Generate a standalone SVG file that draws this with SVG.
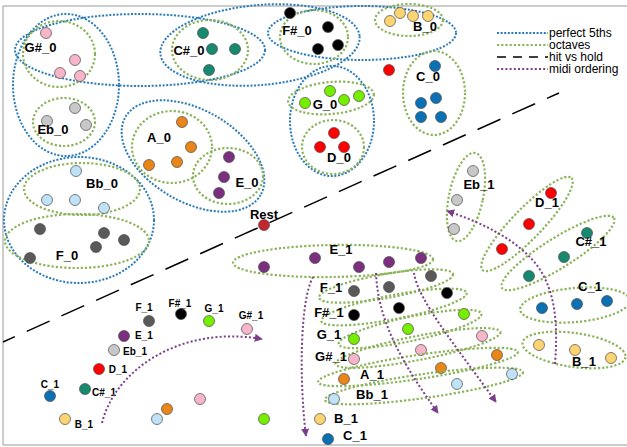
<svg xmlns="http://www.w3.org/2000/svg" width="627" height="447" viewBox="0 0 627 447">
<style>
.fifth{fill:none;stroke:#2a7bba;stroke-width:2;stroke-dasharray:2 1.6}
.oct{fill:none;stroke:#8bb35a;stroke-width:2.2;stroke-dasharray:2.2 2}
.midi{fill:none;stroke:#7b3f8a;stroke-width:2;stroke-dasharray:2 2.2}
.hit{fill:none;stroke:#000;stroke-width:1.5}
.lb{font-family:"Liberation Sans",Arial,sans-serif;font-weight:bold;font-size:13px;fill:#000;text-anchor:middle}
.ls{font-family:"Liberation Sans",Arial,sans-serif;font-weight:bold;font-size:10px;fill:#000;text-anchor:middle}
.lg{font-family:"Liberation Sans",Arial,sans-serif;font-size:12px;fill:#000}
circle{stroke:#4a4a4a;stroke-width:0.7}
.Gs{fill:#f7b5c9}.Cs{fill:#16896f}.Fs{fill:#000}.B{fill:#fdd472}.C{fill:#0c71b3}.G{fill:#76ee00}
.D{fill:#ff0000}.Eb{fill:#c8c8c8}.A{fill:#e8861a}.E{fill:#7a2f7f}.Bb{fill:#bfe2f7}.F{fill:#595959}.R{fill:#c4262e}
</style>
<defs>
<marker id="ah" viewBox="0 0 10 10" refX="9" refY="5" markerWidth="8" markerHeight="8" markerUnits="userSpaceOnUse" orient="auto">
<path d="M0,0 L10,5 L0,10 z" fill="#7b3f8a"/>
</marker>
</defs>
<rect x="0" y="0" width="627" height="447" fill="#fff"/>
<g id="frame" fill="none" stroke="#9a9a9a" stroke-width="1">
<path d="M627,6 H3 V445 H627"/>
</g>

<g id="fifths">
<ellipse class="fifth" cx="66" cy="85" rx="53" ry="71"/>
<ellipse class="fifth" cx="140" cy="50" rx="125" ry="36"/>
<ellipse class="fifth" cx="260" cy="45" rx="100" ry="40" transform="rotate(-5 260 45)"/>
<ellipse class="fifth" cx="362" cy="33" rx="94" ry="27"/>
<ellipse class="fifth" cx="332" cy="121" rx="42" ry="55"/>
<ellipse class="fifth" cx="193" cy="156" rx="78" ry="46" transform="rotate(30 193 156)"/>
<ellipse class="fifth" cx="79" cy="220" rx="75" ry="63"/>
</g>

<g id="hitline">
<line class="hit" x1="3" y1="342" x2="559" y2="93" stroke-dasharray="25 13" stroke-dashoffset="12"/>
</g>

<g id="Gs_0">
<ellipse class="oct" cx="59" cy="54" rx="36" ry="33"/>
<circle class="Gs" cx="46" cy="33" r="5.5"/><circle class="Gs" cx="75" cy="60" r="5.5"/><circle class="Gs" cx="60" cy="73" r="5.5"/><circle class="Gs" cx="80" cy="76" r="5.5"/>
<text class="lb" x="40.5" y="52">G#_0</text>
</g>
<g id="Cs_0">
<ellipse class="oct" cx="210" cy="50" rx="38" ry="30"/>
<circle class="Cs" cx="203" cy="33" r="5.5"/><circle class="Cs" cx="212" cy="49" r="5.5"/><circle class="Cs" cx="235" cy="49" r="5.5"/><circle class="Cs" cx="209" cy="70" r="5.5"/>
<text class="lb" x="189" y="55">C#_0</text>
</g>
<g id="Fs_0">
<ellipse class="oct" cx="314" cy="37" rx="34" ry="27"/>
<circle class="Fs" cx="290" cy="13" r="5.5"/><circle class="Fs" cx="328" cy="27" r="5.5"/><circle class="Fs" cx="318" cy="49" r="5.5"/><circle class="Fs" cx="338" cy="45" r="5.5"/>
<text class="lb" x="297" y="35">F#_0</text>
</g>
<g id="B_0">
<ellipse class="oct" cx="409" cy="20" rx="34" ry="16"/>
<circle class="B" cx="390" cy="21" r="5.5"/><circle class="B" cx="400" cy="13" r="5.5"/><circle class="B" cx="413" cy="16" r="5.5"/><circle class="B" cx="428" cy="16" r="5.5"/>
<text class="lb" x="425" y="31">B_0</text>
</g>
<g id="C_0">
<ellipse class="oct" cx="434" cy="93" rx="31" ry="42"/>
<circle class="C" cx="435" cy="66" r="5.5"/><circle class="C" cx="436" cy="98" r="5.5"/><circle class="C" cx="421" cy="103" r="5.5"/><circle class="C" cx="421" cy="117" r="5.5"/><circle class="C" cx="441" cy="117" r="5.5"/>
<text class="lb" x="428" y="81">C_0</text>
</g>
<g id="G_0">
<ellipse class="oct" cx="331" cy="98" rx="43" ry="16" transform="rotate(-5 331 98)"/>
<circle class="G" cx="305" cy="103" r="5.5"/><circle class="G" cx="330" cy="91" r="5.5"/><circle class="G" cx="344" cy="100" r="5.5"/><circle class="G" cx="359" cy="96" r="5.5"/>
<text class="lb" x="325" y="109">G_0</text>
</g>
<g id="D_0">
<ellipse class="oct" cx="333" cy="147" rx="31" ry="27"/>
<circle class="D" cx="389" cy="70" r="5.5"/>
<circle class="D" cx="334" cy="133" r="5.5"/><circle class="D" cx="320" cy="147" r="5.5"/><circle class="D" cx="344" cy="147" r="5.5"/>
<text class="lb" x="339" y="162">D_0</text>
</g>
<g id="Eb_0">
<ellipse class="oct" cx="64" cy="122" rx="31" ry="24"/>
<circle class="Eb" cx="75" cy="108" r="5.5"/><circle class="Eb" cx="47" cy="121" r="5.5"/><circle class="Eb" cx="86" cy="125" r="5.5"/>
<text class="lb" x="53" y="134">Eb_0</text>
</g>
<g id="A_0">
<ellipse class="oct" cx="172" cy="147" rx="40" ry="36"/>
<circle class="A" cx="182" cy="122" r="5.5"/><circle class="A" cx="191" cy="147" r="5.5"/><circle class="A" cx="177" cy="162" r="5.5"/><circle class="A" cx="149" cy="165" r="5.5"/>
<text class="lb" x="159" y="142">A_0</text>
</g>
<g id="E_0">
<ellipse class="oct" cx="228" cy="176" rx="35" ry="28"/>
<circle class="E" cx="229" cy="157" r="5.5"/><circle class="E" cx="224" cy="177" r="5.5"/><circle class="E" cx="219" cy="193" r="5.5"/>
<text class="lb" x="247" y="187">E_0</text>
</g>
<g id="Bb_0">
<ellipse class="oct" cx="82" cy="189" rx="58" ry="26"/>
<circle class="Bb" cx="76" cy="171" r="5.5"/><circle class="Bb" cx="47" cy="200" r="5.5"/><circle class="Bb" cx="75" cy="200" r="5.5"/><circle class="Bb" cx="104" cy="208" r="5.5"/>
<text class="lb" x="102" y="188">Bb_0</text>
</g>
<g id="F_0">
<ellipse class="oct" cx="77" cy="241" rx="72" ry="27"/>
<circle class="F" cx="40" cy="229" r="5.5"/><circle class="F" cx="104" cy="233" r="5.5"/><circle class="F" cx="124" cy="240" r="5.5"/><circle class="F" cx="96" cy="247" r="5.5"/><circle class="F" cx="30" cy="258" r="5.5"/>
<text class="lb" x="67" y="260">F_0</text>
</g>
<g id="Rest">
<circle class="R" cx="264" cy="225" r="5.5"/>
<text class="lb" x="264" y="219">Rest</text>
</g>

<g id="key_1">
<circle class="F" cx="149" cy="321" r="5.5"/><text class="ls" x="144" y="311">F_1</text>
<circle class="Fs" cx="181" cy="314" r="5.5"/><text class="ls" x="180" y="307">F#_1</text>
<circle class="G" cx="209" cy="321" r="5.5"/><text class="ls" x="214" y="312">G_1</text>
<circle class="Gs" cx="247" cy="329" r="5.5"/><text class="ls" x="251" y="319">G#_1</text>
<circle class="E" cx="124" cy="336" r="5.5"/><text class="ls" x="144" y="339">E_1</text>
<circle class="Eb" cx="114" cy="350" r="5.5"/><text class="ls" x="135" y="355">Eb_1</text>
<circle class="D" cx="99" cy="369" r="5.5"/><text class="ls" x="118" y="373">D_1</text>
<circle class="C" cx="50" cy="396" r="5.5"/><text class="ls" x="50" y="388">C_1</text>
<circle class="Cs" cx="85" cy="389" r="5.5"/><text class="ls" x="104" y="396">C#_1</text>
<circle class="B" cx="65" cy="419" r="5.5"/><text class="ls" x="84" y="428">B_1</text>
<circle class="Gs" cx="200" cy="399" r="5.5"/>
<circle class="A" cx="167" cy="409" r="5.5"/>
<circle class="Bb" cx="157" cy="419" r="5.5"/>
<circle class="G" cx="264" cy="419" r="5.5"/>
</g>

<g id="E_1">
<ellipse class="oct" cx="333" cy="261" rx="100" ry="16" transform="rotate(-1 333 261)"/>
<circle class="E" cx="264" cy="267" r="5.5"/><circle class="E" cx="315" cy="258" r="5.5"/><circle class="E" cx="359" cy="267" r="5.5"/><circle class="E" cx="389" cy="262" r="5.5"/><circle class="E" cx="421" cy="258" r="5.5"/>
<text class="lb" x="341" y="254">E_1</text>
</g>
<g id="F_1">
<ellipse class="oct" cx="386" cy="286" rx="68" ry="12" transform="rotate(-10 386 286)"/>
<circle class="F" cx="354" cy="291" r="5.5"/><circle class="F" cx="389" cy="287" r="5.5"/><circle class="F" cx="431" cy="276" r="5.5"/>
<text class="lb" x="331" y="292">F_1</text>
</g>
<g id="Fs_1">
<ellipse class="oct" cx="394" cy="307" rx="74" ry="12" transform="rotate(-11 394 307)"/>
<circle class="Fs" cx="354" cy="315" r="5.5"/><circle class="Fs" cx="399" cy="308" r="5.5"/><circle class="Fs" cx="447" cy="293" r="5.5"/>
<text class="lb" x="329" y="317">F#_1</text>
</g>
<g id="G_1">
<ellipse class="oct" cx="410" cy="329" rx="73" ry="12" transform="rotate(-12 410 329)"/>
<circle class="G" cx="354" cy="339" r="5.5"/><circle class="G" cx="408" cy="329" r="5.5"/><circle class="G" cx="464" cy="314" r="5.5"/>
<text class="lb" x="329" y="339">G_1</text>
</g>
<g id="Gs_1">
<ellipse class="oct" cx="418" cy="348" rx="84" ry="12" transform="rotate(-11 418 348)"/>
<circle class="Gs" cx="354" cy="359" r="5.5"/><circle class="Gs" cx="421" cy="350" r="5.5"/><circle class="Gs" cx="482" cy="336" r="5.5"/>
<text class="lb" x="331" y="361">G#_1</text>
</g>
<g id="A_1">
<ellipse class="oct" cx="418" cy="367" rx="101" ry="12" transform="rotate(-8.6 418 367)"/>
<circle class="A" cx="344" cy="379" r="5.5"/><circle class="A" cx="441" cy="368" r="5.5"/><circle class="A" cx="497" cy="355" r="5.5"/>
<text class="lb" x="372" y="379">A_1</text>
</g>
<g id="Bb_1">
<ellipse class="oct" cx="424" cy="386" rx="100" ry="12" transform="rotate(-8 424 386)"/>
<circle class="Bb" cx="334" cy="399" r="5.5"/><circle class="Bb" cx="457" cy="384" r="5.5"/><circle class="Bb" cx="512" cy="374" r="5.5"/>
<text class="lb" x="372" y="399">Bb_1</text>
</g>
<g id="B_1_mid">
<circle class="B" cx="320" cy="419" r="5.5"/>
<text class="lb" x="346" y="423">B_1</text>
</g>
<g id="C_1_mid">
<circle class="C" cx="328" cy="439" r="5.5"/>
<text class="lb" x="355" y="440">C_1</text>
</g>

<g id="Eb_1">
<ellipse class="oct" cx="466" cy="197" rx="17" ry="45" transform="rotate(12 466 197)"/>
<circle class="Eb" cx="473" cy="171" r="5.5"/><circle class="Eb" cx="457" cy="200" r="5.5"/><circle class="Eb" cx="454" cy="229" r="5.5"/>
<text class="lb" x="479" y="189">Eb_1</text>
</g>
<g id="D_1">
<ellipse class="oct" cx="527" cy="224" rx="64" ry="15" transform="rotate(-46 527 224)"/>
<circle class="D" cx="551" cy="193" r="5.5"/><circle class="D" cx="529" cy="224" r="5.5"/><circle class="D" cx="502" cy="249" r="5.5"/>
<text class="lb" x="547" y="207">D_1</text>
</g>
<g id="Cs_1">
<ellipse class="oct" cx="558" cy="253" rx="66" ry="15" transform="rotate(-32 558 253)"/>
<circle class="Cs" cx="587" cy="233" r="5.5"/><circle class="Cs" cx="564" cy="257" r="5.5"/><circle class="Cs" cx="529" cy="276" r="5.5"/>
<text class="lb" x="591" y="246">C#_1</text>
</g>
<g id="C_1">
<ellipse class="oct" cx="575" cy="305" rx="55" ry="17" transform="rotate(-5 575 305)"/>
<circle class="C" cx="542" cy="308" r="5.5"/><circle class="C" cx="577" cy="304" r="5.5"/><circle class="C" cx="607" cy="301" r="5.5"/>
<text class="lb" x="590" y="291">C_1</text>
</g>
<g id="B_1">
<ellipse class="oct" cx="574" cy="350" rx="52" ry="17" transform="rotate(8 574 350)"/>
<circle class="B" cx="539" cy="345" r="5.5"/><circle class="B" cx="575" cy="350" r="5.5"/><circle class="B" cx="611" cy="358" r="5.5"/>
<text class="lb" x="584" y="366">B_1</text>
</g>

<g id="connectors">
<path class="midi" d="M102,423 C115,370 180,325 262,339" marker-end="url(#ah)"/>
<path class="midi" d="M313,277 C300,300 299,380 306,436" marker-end="url(#ah)"/>
<path class="midi" d="M376,273 C378,320 400,360 438,413" marker-end="url(#ah)"/>
<path class="midi" d="M414,273 C418,300 455,345 496,402" marker-end="url(#ah)"/>
<path class="midi" d="M555,364 C558,325 556,290 536,264 C515,238 480,222 447,211" marker-end="url(#ah)"/>
</g>

<g id="legend">
<line class="fifth" x1="497" y1="33" x2="548" y2="33"/>
<text class="lg" x="549" y="37">perfect 5ths</text>
<line class="oct" x1="497" y1="45" x2="548" y2="45"/>
<text class="lg" x="549" y="49">octaves</text>
<line class="hit" x1="497" y1="57" x2="548" y2="57" stroke-dasharray="9 7"/>
<text class="lg" x="549" y="61">hit vs hold</text>
<line class="midi" x1="497" y1="69" x2="548" y2="69"/>
<text class="lg" x="549" y="73">midi ordering</text>
</g>
</svg>
